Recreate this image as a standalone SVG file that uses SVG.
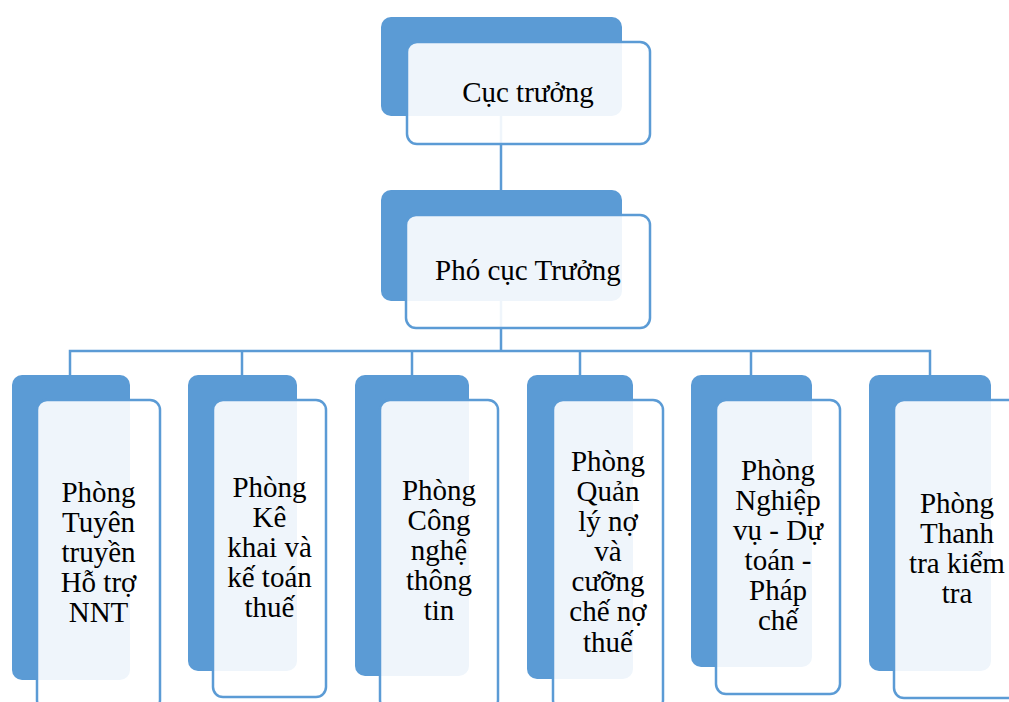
<svg xmlns="http://www.w3.org/2000/svg" width="1009" height="702" viewBox="0 0 1009 702">
<style>
.back{fill:#5B9BD5;}
.front{fill:#FFFFFF;fill-opacity:0.9;stroke:#5B9BD5;stroke-width:2.5;}
.conn{stroke:#5B9BD5;stroke-width:2.5;fill:none;}
.t{font-family:'Liberation Serif','Tinos','Times New Roman','DejaVu Serif',serif;font-size:29px;fill:#000000;text-anchor:middle;}
</style>
<rect width="1009" height="702" fill="#FFFFFF"/>
<g id="connectors">
<line class="conn" x1="501" y1="116" x2="501" y2="190"/>
<line class="conn" x1="501" y1="301" x2="501" y2="351"/>
<polyline class="conn" points="70,375 70,351 930,351 930,375"/>
<line class="conn" x1="242" y1="351" x2="242" y2="375"/>
<line class="conn" x1="412" y1="351" x2="412" y2="375"/>
<line class="conn" x1="580" y1="351" x2="580" y2="375"/>
<line class="conn" x1="751" y1="351" x2="751" y2="375"/>
</g>
<g id="cuc-truong">
<rect class="back" x="381" y="17" width="241" height="99" rx="10"/>
<rect class="front" x="407" y="42" width="243" height="102" rx="10"/>
<text class="t" font-family="Liberation Serif, serif" x="528" y="102">Cục trưởng</text>
</g>
<g id="pho-cuc-truong">
<rect class="back" x="381" y="190" width="241" height="111" rx="10"/>
<rect class="front" x="406" y="215" width="244" height="113" rx="10"/>
<text class="t" x="528" y="280">Phó cục Trưởng</text>
</g>
<g id="phong-tuyen-truyen" class="t">
<rect class="back" x="12" y="375" width="118" height="305" rx="10"/>
<rect class="front" x="37" y="400" width="123" height="310" rx="10"/>
<text class="t" x="98.5" y="502">Phòng</text>
<text class="t" x="98.5" y="532">Tuyên</text>
<text class="t" x="98.5" y="562">truyền</text>
<text class="t" x="98.5" y="592">Hỗ trợ</text>
<text class="t" x="98.5" y="622">NNT</text>
</g>
<g id="phong-ke-khai">
<rect class="back" x="188" y="375" width="109" height="296" rx="10"/>
<rect class="front" x="213" y="400" width="113" height="297" rx="10"/>
<text class="t" x="269.5" y="497">Phòng</text>
<text class="t" x="269.5" y="527">Kê</text>
<text class="t" x="269.5" y="557">khai và</text>
<text class="t" x="269.5" y="587">kế toán</text>
<text class="t" x="269.5" y="617">thuế</text>
</g>
<g id="phong-cntt">
<rect class="back" x="355" y="375" width="114" height="301" rx="10"/>
<rect class="front" x="380" y="400" width="118" height="310" rx="10"/>
<text class="t" x="439" y="500">Phòng</text>
<text class="t" x="439" y="530">Công</text>
<text class="t" x="439" y="560">nghệ</text>
<text class="t" x="439" y="590">thông</text>
<text class="t" x="439" y="620">tin</text>
</g>
<g id="phong-quan-ly-no">
<rect class="back" x="527" y="375" width="106" height="304" rx="10"/>
<rect class="front" x="553" y="400" width="110" height="310" rx="10"/>
<text class="t" x="608" y="471">Phòng</text>
<text class="t" x="608" y="501">Quản</text>
<text class="t" x="608" y="531">lý nợ</text>
<text class="t" x="608" y="561">và</text>
<text class="t" x="608" y="591">cưỡng</text>
<text class="t" x="608" y="621">chế nợ</text>
<text class="t" x="608" y="652">thuế</text>
</g>
<g id="phong-nghiep-vu">
<rect class="back" x="691" y="375" width="121" height="292" rx="10"/>
<rect class="front" x="716" y="400" width="124" height="294" rx="10"/>
<text class="t" x="778" y="480">Phòng</text>
<text class="t" x="778" y="510">Nghiệp</text>
<text class="t" x="778" y="540">vụ - Dự</text>
<text class="t" x="778" y="570">toán -</text>
<text class="t" x="778" y="600">Pháp</text>
<text class="t" x="778" y="630">chế</text>
</g>
<g id="phong-thanh-tra">
<rect class="back" x="869" y="375" width="122" height="296" rx="10"/>
<rect class="front" x="894" y="400" width="126" height="298" rx="10"/>
<text class="t" x="957" y="513">Phòng</text>
<text class="t" x="957" y="543">Thanh</text>
<text class="t" x="957" y="573">tra kiểm</text>
<text class="t" x="957" y="603">tra</text>
</g>
</svg>
